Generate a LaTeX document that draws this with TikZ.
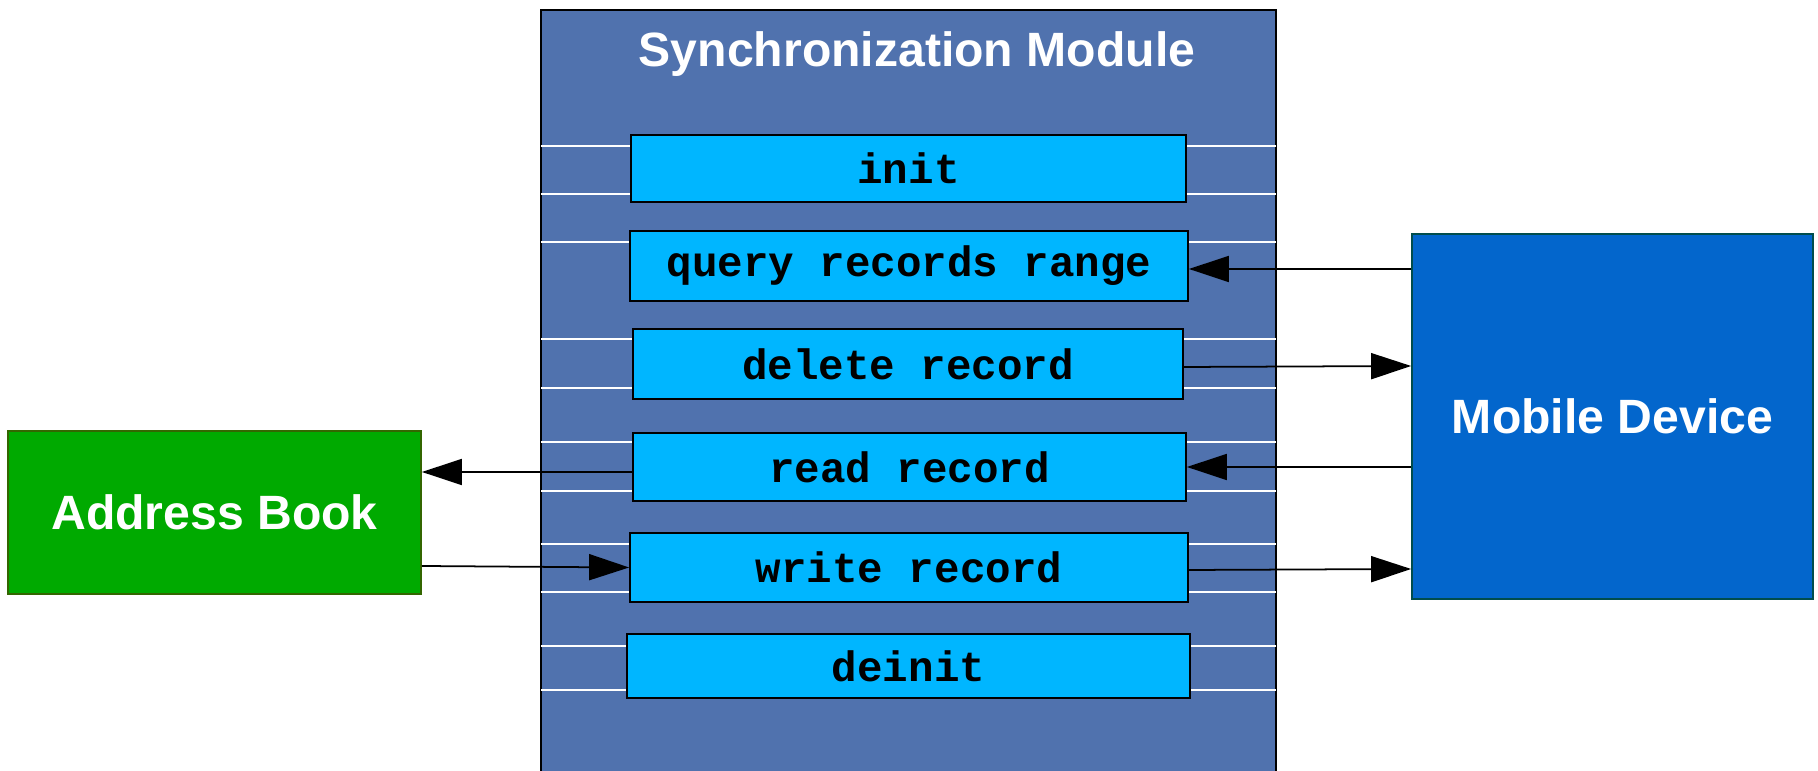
\documentclass[tikz,border=0pt]{standalone}
\usepackage{fontspec}
\setmainfont{Liberation Sans}
\setmonofont{Liberation Mono}
\usetikzlibrary{arrows.meta}
\definecolor{modblue}{RGB}{80,114,174}
\definecolor{funcblue}{RGB}{0,182,255}
\definecolor{bookgreen}{RGB}{0,170,0}
\definecolor{bookedge}{RGB}{51,102,0}
\definecolor{devblue}{RGB}{3,102,204}
\definecolor{devedge}{RGB}{0,77,77}
\begin{document}
\begin{tikzpicture}[
  func/.style={draw=black,line width=0.5pt,fill=funcblue,inner sep=0pt,
    font=\fontsize{12.1}{14}\selectfont\ttfamily\bfseries},
  side/.style={inner sep=0pt,text=white,line width=0.5pt,
    font=\fontsize{13.7}{16}\selectfont\bfseries},
  arr/.style={-{Triangle[length=4mm,width=2.6mm]},line width=0.5pt}]
	\clip (0,0) rectangle (18.18,7.71);
	\fill[white] (0,0) rectangle (18.18,7.71);
	\draw[fill=modblue,line width=0.6pt] (5.41,-0.5) rectangle (12.76,7.61);
	\node[side,anchor=base] (title) at (9.17,7.04) {Synchronization Module};
	\draw[white,line width=0.4pt]
	  (5.41,6.25) -- (12.76,6.25) (5.41,5.77) -- (12.76,5.77)
	  (5.41,5.29) -- (12.76,5.29)
	  (5.41,4.32) -- (12.76,4.32) (5.41,3.83) -- (12.76,3.83)
	  (5.41,3.29) -- (12.76,3.29) (5.41,2.80) -- (12.76,2.80)
	  (5.41,2.27) -- (12.76,2.27) (5.41,1.79) -- (12.76,1.79)
	  (5.41,1.25) -- (12.76,1.25) (5.41,0.81) -- (12.76,0.81);
	\node[func,minimum width=5.55cm,minimum height=0.67cm] (init) at (9.085,6.025) {init};
	\node[func,minimum width=5.58cm,minimum height=0.70cm] (query) at (9.09,5.05) {query records range};
	\node[func,minimum width=5.50cm,minimum height=0.70cm] (delete) at (9.08,4.07) {delete record};
	\node[func,minimum width=5.53cm,minimum height=0.68cm] (read) at (9.095,3.04) {read record};
	\node[func,minimum width=5.58cm,minimum height=0.69cm] (write) at (9.09,2.035) {write record};
	\node[func,minimum width=5.63cm,minimum height=0.64cm] (deinit) at (9.085,1.05) {deinit};
	\node[side,draw=bookedge,fill=bookgreen,minimum width=4.13cm,minimum height=1.63cm]
	  (book) at (2.145,2.585) {Address Book};
	\node[side,draw=devedge,fill=devblue,minimum width=4.01cm,minimum height=3.65cm]
	  (device) at (16.125,3.545) {Mobile Device};
	\draw[arr] (device.west |- 0,5.02) -- ([yshift=-0.03cm]query.east);
	\draw[arr] ([yshift=-0.03cm]delete.east) -- (device.west |- 0,4.05);
	\draw[arr] (device.west |- read.east) -- (read.east);
	\draw[arr] ([yshift=-0.025cm]write.east) -- (device.west |- 0,2.02);
	\draw[arr] ([yshift=-0.05cm]read.west) -- (book.east |- 0,2.99);
	\draw[arr] (book.east |- 0,2.05) -- (write.west);
\end{tikzpicture}
\end{document}
